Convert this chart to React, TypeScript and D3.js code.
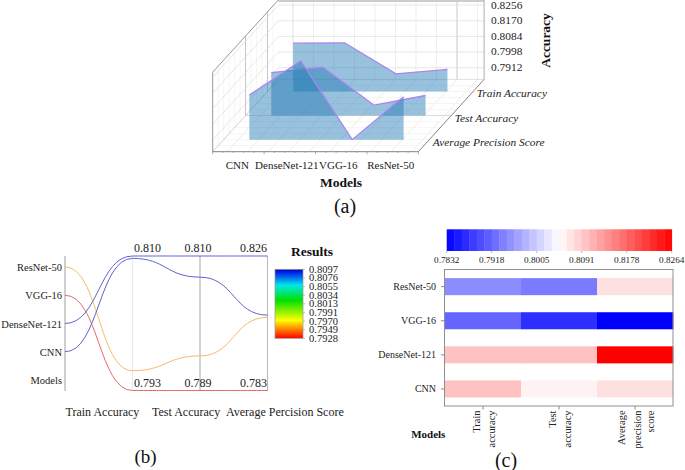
import React from "react";
import * as d3 from "d3";

const models = ["CNN", "DenseNet-121", "VGG-16", "ResNet-50"];
const metrics3d = ["Average Precision Score", "Test Accuracy", "Train Accuracy"];
const aps3d = [0.8077, 0.8264, 0.7832, 0.8068];
const test3d = [0.8068, 0.8097, 0.7889, 0.7942];
const train3d = [0.8097, 0.8099, 0.7929, 0.7953];
const zTicks = ["0.8256", "0.8170", "0.8084", "0.7998", "0.7912"];

const parallelModels = ["ResNet-50", "VGG-16", "DenseNet-121", "CNN", "Models"];
const parallelAxes = ["Train Accuracy", "Test Accuracy", "Average Percision Score"];
const topLabels = ["0.810", "0.810", "0.826"];
const bottomLabels = ["0.793", "0.789", "0.783"];
const resnetLine = [0.7955, 0.7944, 0.8064];
const vggLine = [0.793, 0.789, 0.783];
const dnLine = [0.81, 0.81, 0.826];
const cnnLine = [0.8097, 0.8067, 0.8071];
const resultTicks = ["0.8097", "0.8076", "0.8055", "0.8034", "0.8013", "0.7991", "0.7970", "0.7949", "0.7928"];
const rainbow = ["#ff0000", "#ff8000", "#ffff00", "#00e000", "#00e8e8", "#0030f0", "#0000b8"];
const rainbowStops = [0, 0.13, 0.26, 0.55, 0.77, 0.94, 1];

const heatRows = ["ResNet-50", "VGG-16", "DenseNet-121", "CNN"];
const heatCols = ["Train", "Test", "Average"];
const heatFills = [
  ["#8c8cff", "#7b7bff", "#ffe0e0"],
  ["#6666ff", "#2e2eff", "#0000ff"],
  ["#ffc2c2", "#ffc2c2", "#ff0000"],
  ["#ffc2c2", "#fff2f2", "#ffe0e0"],
];
const heatTicks = ["0.7832", "0.7918", "0.8005", "0.8091", "0.8178", "0.8264"];
const heatScaleStops = ["#0000ff", "#ffffff", "#ff0000"];
const serif = "'Liberation Serif', 'Times New Roman', serif";

function Panel3D() {
  const W = 205.7;
  const x = d3.scaleBand<string>().domain(models).range([0, W]);
  const depth = d3.scaleBand<string>().domain(metrics3d).range([0, 1]);
  const v = d3.scaleLinear().domain([0.7832, 0.8264]).range([0, 78.7]);
  const origin = [212.7, 151.7];
  const dx = 65.7;
  const dy = -72.3;
  const P = (px: number, d: number, h: number): [number, number] => [
    origin[0] + px + d * dx,
    origin[1] + d * dy - h,
  ];
  const path = (pts: [number, number][], close = false) =>
    (d3.line()(pts) ?? "") + (close ? "Z" : "");
  const series = [aps3d, test3d, train3d];
  const wallH = 79.5;
  const xGrid = d3.range(0, 10).map((i) => 14.6 + i * 20.5);
  const dGrid = d3.range(1, 12).map((i) => i / 12);
  const tickY = d3.scaleLinear().domain([0, 4]).range([4.7, 67.3]);
  const floorTicks = d3.range(0, 21).map((i) => (i * W) / 20);
  return (
    <g>
      {xGrid.map((g, i) => (
        <g key={i}>
          <path d={path([P(g, 1, 0), P(g, 1, wallH)])} stroke={i === 8 ? "#c8c8c8" : i === 0 ? "#d4d4d4" : "#e8e8e8"} fill="none" strokeWidth={i === 8 ? 1 : 0.7} />
          <path d={path([P(g, 0, 0), P(g, 1, 0)])} stroke="#e4e4e4" fill="none" strokeWidth={0.7} />
        </g>
      ))}
      {dGrid.map((d, i) => (
        <g key={i}>
          <path d={path([P(0, d, 0), P(W, d, 0)])} stroke={i === 5 ? "#cccccc" : "#f0f0f0"} fill="none" strokeWidth={0.7} />
          <path d={path([P(0, d, 0), P(0, d, wallH)])} stroke={i === 5 || i === 9 ? "#c4c4c4" : "#f0f0f0"} fill="none" strokeWidth={i === 5 || i === 9 ? 1 : 0.7} />
        </g>
      ))}
      {zTicks.map((t, i) => {
        const h = 79 - tickY(i);
        return (
          <g key={t}>
            <path d={path([P(0, 0, h), P(0, 1, h), P(W, 1, h)])} stroke="#dcdcdc" fill="none" strokeWidth={0.7} strokeDasharray={undefined} />
            <text x={491} y={tickY(i) + 3.8} fontSize={11.4} fontFamily={serif} fill="#222">{t}</text>
          </g>
        );
      })}
      <path d={path([P(0, 1, 0), P(W, 1, 0)])} stroke="#d8d8d8" fill="none" strokeWidth={0.8} />
      <path d={path([P(0, 0, 0), P(0, 1, 0)])} stroke="#c4c4c4" fill="none" strokeWidth={0.8} />
      <path d={path([P(0, 1, wallH - 1), P(W, 1, wallH - 1)])} stroke="#cccccc" fill="none" strokeWidth={2} />
      <path d={path([P(W, 1, 0), P(W, 1, wallH)])} stroke="#9a9a9a" fill="none" strokeWidth={0.8} />
      <path d={path([P(0, 0, 0), P(0, 0, wallH), P(0, 1, wallH)])} stroke="#8c8c8c" fill="none" strokeWidth={0.9} />
      <path d={path([P(0, 0, 0), P(W, 0, 0), P(W, 1, 0)])} stroke="#777" fill="none" strokeWidth={0.9} />
      {floorTicks.map((f, i) => (
        <path key={i} d={path([P(f, 0, 0), [P(f, 0, 0)[0], P(f, 0, 0)[1] + (i % 5 === 0 ? 2.5 : 1.2)]])} stroke="#777" fill="none" strokeWidth={0.6} />
      ))}
      {series
        .map((vals, si) => ({ vals, si }))
        .reverse()
        .map(({ vals, si }) => {
          const d = (depth(metrics3d[si]) ?? 0) + depth.bandwidth() / 2;
          const top = models.map((m, i) => P((x(m) ?? 0) + x.bandwidth() / 2, d, v(vals[i])));
          const base = models.map((m) => P((x(m) ?? 0) + x.bandwidth() / 2, d, 0)).reverse();
          return (
            <g key={si}>
              <path d={path([...top, ...base], true)} fill="#1f77b4" fillOpacity={0.46} />
              <path d={path(top)} fill="none" stroke="#a985ee" strokeWidth={1.3} />
            </g>
          );
        })}
      {models.map((m, i) => (
        <text key={m} x={P((x(m) ?? 0) + x.bandwidth() / 2, 0, 0)[0] + [-1, -3, -3, -2][i]} y={169} textAnchor="middle" fontSize={11} fontFamily={serif} fill="#222">{m}</text>
      ))}
      {metrics3d.map((m) => {
        const d = (depth(m) ?? 0) + depth.bandwidth() / 2;
        const p = P(W, d, 0);
        return (
          <text key={m} x={p[0] + 3.5} y={p[1] + 6} fontSize={11.4} fontStyle="italic" fontFamily={serif} fill="#222">{m}</text>
        );
      })}
      <text x={341} y={187} textAnchor="middle" fontSize={13.5} fontWeight="bold" fontFamily={serif} fill="#111">Models</text>
      <text transform="translate(550,40.5) rotate(-90)" textAnchor="middle" fontSize={13.5} fontWeight="bold" fontFamily={serif} fill="#111">Accuracy</text>
      <text x={345} y={213} textAnchor="middle" fontSize={20} fontFamily={serif} fill="#111">(a)</text>
    </g>
  );
}

function PanelParallel() {
  const ax = d3.scalePoint<string>().domain(parallelAxes).range([132.5, 267.5]);
  const axisX0 = 65;
  const leftY = d3.scalePoint<string>().domain(parallelModels).range([267, 380]);
  const yScales = parallelAxes.map((_, i) =>
    d3.scaleLinear()
      .domain([+bottomLabels[i], +topLabels[i]])
      .range([390.5, 256])
  );
  const curve = d3.line().curve(d3.curveBumpX);
  const lines = [
    { m: "ResNet-50", vals: resnetLine, c: "#f4bd68" },
    { m: "VGG-16", vals: vggLine, c: "#e56a6a" },
    { m: "DenseNet-121", vals: dnLine, c: "#6262d4" },
    { m: "CNN", vals: cnnLine, c: "#6262d4" },
  ];
  const gradId = "rainbowGrad";
  const cbY = d3.scalePoint<string>().domain(resultTicks).range([269.3, 338.3]);
  const labelShift = [15, -2, -14];
  return (
    <g>
      <line x1={axisX0} x2={axisX0} y1={256} y2={391} stroke="#cfcfcf" strokeWidth={2} />
      <line x1={132.5} x2={132.5} y1={256} y2={391} stroke="#e8e8e8" />
      <line x1={200} x2={200} y1={256} y2={391} stroke="#a8a8a8" />
      <line x1={267.5} x2={267.5} y1={256} y2={391} stroke="#b8b8b8" />
      {lines.map((l) => {
        const pts: [number, number][] = [
          [axisX0, leftY(l.m) ?? 0],
          ...l.vals.map((val, i): [number, number] => [ax(parallelAxes[i]) ?? 0, yScales[i](val)]),
        ];
        return <path key={l.m} d={curve(pts) ?? ""} fill="none" stroke={l.c} strokeWidth={1} />;
      })}
      {parallelModels.map((m) => (
        <text key={m} x={62} y={(leftY(m) ?? 0) + 4} textAnchor="end" fontSize={10.5} fontFamily={serif} fill="#222">{m}</text>
      ))}
      {parallelAxes.map((a, i) => (
        <g key={a}>
          <text x={(ax(a) ?? 0) + labelShift[i]} y={252} textAnchor="middle" fontSize={12} fontFamily={serif} fill="#222">{topLabels[i]}</text>
          <text x={(ax(a) ?? 0) + labelShift[i]} y={387} textAnchor="middle" fontSize={12} fontFamily={serif} fill="#222">{bottomLabels[i]}</text>
        </g>
      ))}
      <text x={65.5} y={416} fontSize={12} fontFamily={serif} fill="#222">{parallelAxes[0]}</text>
      <text x={152} y={416} fontSize={12} fontFamily={serif} fill="#222">{parallelAxes[1]}</text>
      <text x={226} y={416} fontSize={12} fontFamily={serif} fill="#222">{parallelAxes[2]}</text>
      <text x={312} y={256} textAnchor="middle" fontSize={13.5} fontWeight="bold" fontFamily={serif} fill="#111">Results</text>
      <defs>
        <linearGradient id={gradId} x1="0" x2="0" y1="1" y2="0">
          {rainbow.map((c, i) => (
            <stop key={c} offset={rainbowStops[i]} stopColor={c} />
          ))}
        </linearGradient>
      </defs>
      <rect x={275} y={269.3} width={28} height={69} fill={`url(#${gradId})`} stroke="#999" strokeWidth={0.7} />
      {resultTicks.map((t) => (
        <g key={t}>
          <line x1={303} x2={305} y1={cbY(t) ?? 0} y2={cbY(t) ?? 0} stroke="#999" strokeWidth={0.6} />
          <text x={309} y={(cbY(t) ?? 0) + 3.5} fontSize={10.5} fontFamily={serif} fill="#222">{t}</text>
        </g>
      ))}
      <text x={145.5} y={463} textAnchor="middle" fontSize={19} fontFamily={serif} fill="#111">(b)</text>
    </g>
  );
}

function PanelHeat() {
  const cx = d3.scaleBand<string>().domain(heatCols).range([445, 673]);
  const ry = d3.scaleBand<string>().domain(heatRows).range([269.6, 406]).paddingInner(0.5).paddingOuter(0.25);
  const cs = d3.scaleLinear<string>().domain([0.7832, 0.8048, 0.8264]).range(heatScaleStops);
  const barX = d3.scaleLinear().domain([0, 30]).range([446.7, 671.7]);
  const tickX = d3.scalePoint<string>().domain(heatTicks).range([446.7, 671.7]);
  const colLabels = [
    { lines: ["Train", "accuracy"], offs: [-7, 8.7] },
    { lines: ["Test", "accuracy"], offs: [-7, 8.7] },
    { lines: ["Average", "precision", "score"], offs: [-13.7, 2, 15] },
  ];
  return (
    <g>
      {d3.range(30).map((i) => (
        <rect key={i} x={barX(i)} y={229.3} width={barX(1) - barX(0) + 0.4} height={21.7} fill={cs(0.7832 + ((i + 0.5) / 30) * 0.0432)} />
      ))}
      {heatTicks.map((t) => (
        <g key={t}>
          <line x1={tickX(t)} x2={tickX(t)} y1={251} y2={253} stroke="#bbb" />
          <text x={tickX(t)} y={262.7} textAnchor="middle" fontSize={9.2} fontFamily={serif} fill="#222">{t}</text>
        </g>
      ))}
      {heatRows.map((r, ri) =>
        heatCols.map((c, ci) => (
          <rect key={c} x={cx(c)} y={ry(r)} width={cx.bandwidth() + 0.3} height={ry.bandwidth()} fill={heatFills[ri][ci]} />
        ))
      )}
      <rect x={444.5} y={269.5} width={228.5} height={136.5} fill="none" stroke="#8f8f8f" />
      {heatRows.map((r) => (
        <g key={r}>
          <line x1={441} x2={445} y1={(ry(r) ?? 0) + ry.bandwidth() / 2} y2={(ry(r) ?? 0) + ry.bandwidth() / 2} stroke="#888" />
          <text x={436} y={(ry(r) ?? 0) + ry.bandwidth() / 2 + 3.5} textAnchor="end" fontSize={10} fontFamily={serif} fill="#222">{r}</text>
        </g>
      ))}
      {heatCols.map((c, ci) => {
        const mid = (cx(c) ?? 0) + cx.bandwidth() / 2;
        const { lines, offs } = colLabels[ci];
        return (
          <g key={c}>
            <line x1={mid} x2={mid} y1={406} y2={409.5} stroke="#888" />
            {lines.map((t, li) => (
              <text key={t} transform={`translate(${mid + offs[li]},${410.5}) rotate(-90)`} dy={3.5} textAnchor="end" fontSize={10.4} fontFamily={serif} fill="#222">{t}</text>
            ))}
          </g>
        );
      })}
      <text x={428.3} y={438} textAnchor="middle" fontSize={11} fontWeight="bold" fontFamily={serif} fill="#111">Models</text>
      <text x={506} y={467} textAnchor="middle" fontSize={20} fontFamily={serif} fill="#111">(c)</text>
    </g>
  );
}

export default function App() {
  return (
    <svg width={685} height={470} style={{ position: "absolute", left: 0, top: 0, background: "#fff" }}>
      <Panel3D />
      <PanelParallel />
      <PanelHeat />
    </svg>
  );
}
